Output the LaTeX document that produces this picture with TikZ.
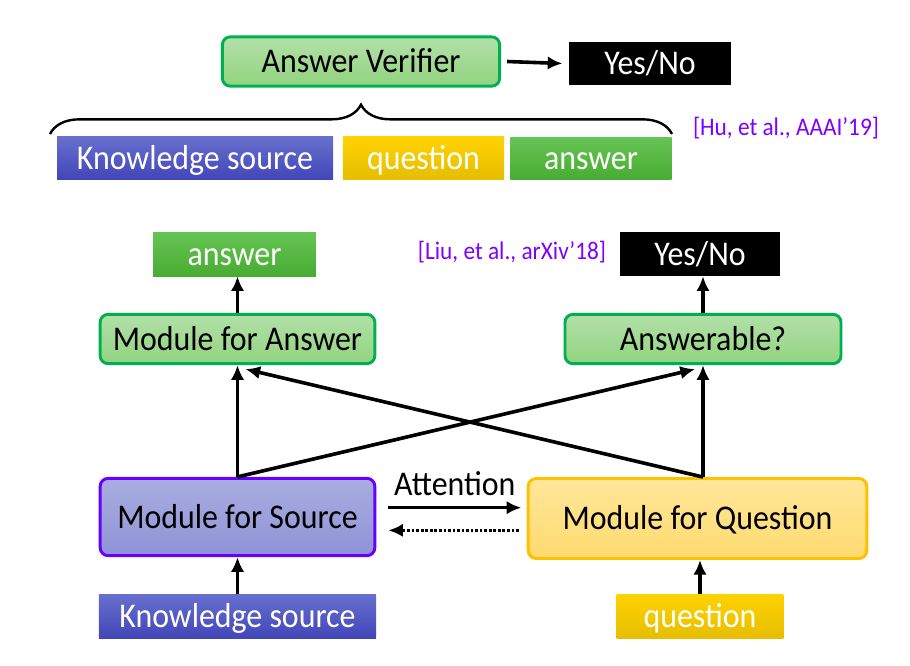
\documentclass[tikz,border=0pt]{standalone}
\usepackage{fontspec}
\setmainfont{Carlito}[FakeStretch=0.92]
\usetikzlibrary{arrows.meta,positioning,calc,decorations.pathreplacing}

\begin{document}
\begin{tikzpicture}[x=0.75pt, y=-0.75pt]
        \definecolor{modgreen}{RGB}{0,176,80}
        \definecolor{modpurple}{RGB}{102,0,255}
        \definecolor{modyellow}{RGB}{255,192,0}
        \definecolor{refviolet}{RGB}{127,0,255}

        % box styles: modules are rounded with a thick border, inputs/outputs are flat
        \tikzset{
            boxtext/.style={font=\fontsize{26}{29}\selectfont, text height=16.6pt, text depth=0pt, inner sep=0pt},
            greenmod/.style={boxtext, draw=modgreen, line width=2.2pt, rounded corners=6pt, top color={rgb,255:red,178;green,224;blue,168}, bottom color={rgb,255:red,146;green,211;blue,128}},
            bluemod/.style={boxtext, draw=modpurple, line width=2.2pt, rounded corners=6pt, top color={rgb,255:red,170;green,173;blue,224}, bottom color={rgb,255:red,142;green,147;blue,214}},
            yellowmod/.style={boxtext, draw=modyellow, line width=2.2pt, rounded corners=6pt, top color={rgb,255:red,255;green,230;blue,153}, bottom color={rgb,255:red,255;green,218;blue,112}},
            greenlab/.style={boxtext, top color={rgb,255:red,102;green,196;blue,84}, bottom color={rgb,255:red,72;green,172;blue,50}, text=white},
            bluelab/.style={boxtext, top color={rgb,255:red,104;green,112;blue,206}, bottom color={rgb,255:red,66;green,70;blue,184}, text=white},
            yellowlab/.style={boxtext, top color={rgb,255:red,255;green,210;blue,0}, bottom color={rgb,255:red,230;green,190;blue,0}, text=white},
            blacklab/.style={boxtext, fill=black, text=white},
            refnote/.style={text=refviolet, font=\fontsize{19}{22}\selectfont, inner sep=0pt},
            arr/.style={line width=2.7pt, -{Latex[length=11pt,width=10pt]}}
        }

        \useasboundingbox (0,0) rectangle (910,665);

        % verifier (top)
        \node[greenmod, minimum width=208pt, minimum height=37pt] (verifier) at (361,61.5) {Answer Verifier};
        \node[blacklab, minimum width=121pt, minimum height=32pt] (yesno1) at (650,63.5) {Yes/No};
        \node[bluelab, minimum width=207pt, minimum height=32pt] (ks1) at (195,158) {Knowledge source};
        \node[yellowlab, minimum width=121pt, minimum height=32pt] (q1) at (423.5,158) {question};
        \node[greenlab, minimum width=121pt, minimum height=32pt] (a1) at (591,158.5) {answer};
        \node[refnote] (hu) at (786,128) {[Hu, et al., AAAI’19]};

        \draw[arr] (verifier.east) ++(6,0) -- ([xshift=-5pt]yesno1.west);
        \draw[line width=1.8pt, decoration={brace, amplitude=22pt}, decorate] (50,134) -- (672,134);

        % two-module model (bottom)
        \node[greenlab, minimum width=122pt, minimum height=33pt] (ans2) at (234.5,254) {answer};
        \node[refnote] (liu) at (512,252) {[Liu, et al., arXiv’18]};
        \node[blacklab, minimum width=120pt, minimum height=33pt] (yesno2) at (700,254) {Yes/No};
        \node[greenmod, minimum width=206pt, minimum height=37pt] (mfa) at (237.5,339) {Module for Answer};
        \node[greenmod, minimum width=207pt, minimum height=37pt] (answerable) at (703,339) {Answerable?};
        \node[bluemod, minimum width=206pt, minimum height=58pt] (mfs) at (237.5,517) {Module for Source};
        \node[yellowmod, minimum width=254pt, minimum height=60pt] (mfq) at (697.5,518.5) {Module for Question};
        \node[bluelab, minimum width=208pt, minimum height=33pt] (ks2) at (237.5,616) {Knowledge source};
        \node[yellowlab, minimum width=125pt, minimum height=33pt] (q2) at (700,616) {question};

        \coordinate (mfaIn) at ($(mfa.south)+(8,4)$);
        \coordinate (ansIn) at ($(answerable.south)+(-8,4)$);

        \draw[arr] (ks2) -- (mfs);
        \draw[arr] (q2.north) -- (q2.north |- mfq.south);
        \draw[arr] (mfs.north) -- (mfa.south);
        \draw[arr] (mfs.north) -- (ansIn);
        \draw[arr] (mfq.north -| answerable.south) -- (answerable.south);
        \draw[arr] (mfq.north -| answerable.south) -- (mfaIn);
        \draw[arr] (mfa.north) -- (mfa.north |- ans2.south);
        \draw[arr] (answerable.north) -- (answerable.north |- yesno2.south);

        \draw[arr] ([xshift=9pt,yshift=7pt]mfs.east) -- ([xshift=-4pt,yshift=7pt]mfs.east -| mfq.west) node[midway, above=4pt, font=\fontsize{26}{29}\selectfont] (attn) {Attention};
        \draw[arr, dash pattern=on 2pt off 1.4pt] ([xshift=-6pt,yshift=-10pt]mfs.east -| mfq.west) -- ([xshift=9pt,yshift=-10pt]mfs.east);
\end{tikzpicture}
\end{document}
